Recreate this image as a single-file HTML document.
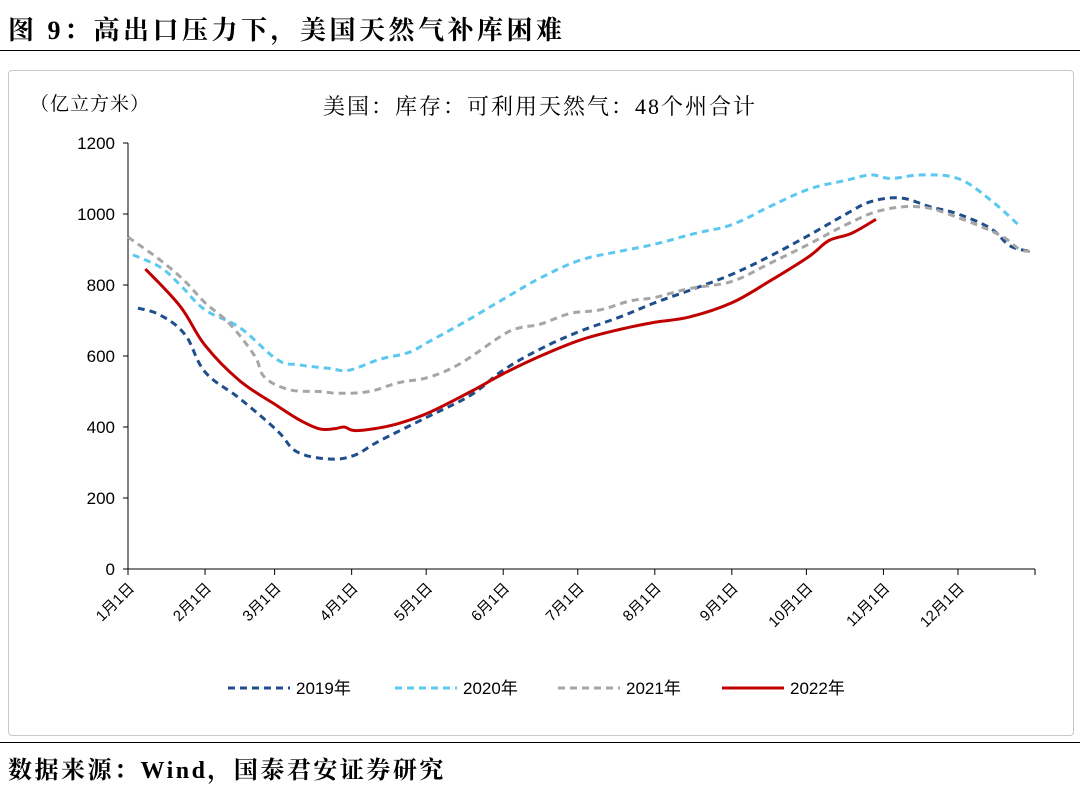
<!DOCTYPE html>
<html><head><meta charset="utf-8">
<style>
body{margin:0;width:1080px;height:785px;background:#fff;font-family:"Liberation Serif","Noto Serif CJK SC",serif;position:relative;overflow:hidden}
.t{position:absolute;left:8px;top:10px;font-size:26px;letter-spacing:3.5px;font-weight:bold;color:#000;white-space:nowrap}
.hl{position:absolute;left:0;width:1080px;height:1px;background:#000}
.box{position:absolute;left:8px;top:70px;width:1064px;height:664px;border:1px solid #c8c8c8;border-radius:4px}
.src{position:absolute;left:8px;top:750px;font-size:24px;letter-spacing:2.5px;font-weight:bold;white-space:nowrap}
svg{position:absolute;left:0;top:0}
</style></head><body>
<div class="t">图 9：高出口压力下，美国天然气补库困难</div>
<div class="hl" style="top:50px"></div>
<div class="box"></div>
<div class="hl" style="top:742px"></div>
<div class="src">数据来源：Wind，国泰君安证券研究</div>
<svg id="c" width="1080" height="785"></svg>
<script>
const months=["1月1日","2月1日","3月1日","4月1日","5月1日","6月1日","7月1日","8月1日","9月1日","10月1日","11月1日","12月1日"];
const monthDays=[0,31,59,90,120,151,181,212,243,273,304,334];
const yTicks=[0,200,400,600,800,1000,1200];
const d2019=[4,13,23,31,45,60,68,81,91,101,121,138,151,166,182,198,212,228,243,258,274,289,299,311,323,334,347,355,363];
const v2019=[735,715,660,555,480,390,330,310,320,360,430,490,560,620,670,710,750,790,830,880,940,1000,1035,1045,1020,1000,960,910,895];
const d2020=[2,13,21,31,45,60,69,81,89,101,113,121,134,151,166,182,198,212,228,243,258,274,289,299,307,319,334,347,359];
const v2020=[885,850,800,730,680,590,575,565,560,590,610,640,690,760,820,870,895,915,945,970,1020,1070,1095,1110,1100,1110,1100,1040,965];
const d2021=[0,13,23,31,41,51,55,65,77,85,97,109,121,134,151,158,166,178,190,202,212,226,243,258,274,289,303,319,334,351,359,365];
const v2021=[935,870,810,750,690,600,540,505,500,495,500,525,540,580,660,680,690,720,730,755,765,790,810,860,915,970,1010,1020,990,940,900,895];
const d2022=[7,21,31,45,60,69,77,83,87,91,99,109,121,138,151,166,182,198,212,226,243,258,274,282,291,301];
const v2022=[845,740,630,530,460,420,395,395,400,390,395,410,440,500,550,600,645,675,695,710,750,810,880,925,945,985];
const X=d=>128+d*907/365, Y=v=>569-v*426/1200;
const s=document.getElementById('c'),NS="http://www.w3.org/2000/svg";
function el(t,a,txt){const e=document.createElementNS(NS,t);for(const k in a)e.setAttribute(k,a[k]);if(txt!=null)e.textContent=txt;s.appendChild(e);return e;}
const F='"Liberation Sans","Noto Sans CJK SC",sans-serif';
const FS='"Liberation Serif","Noto Serif CJK SC",serif';
function smooth(p){let d='M'+p[0][0]+','+p[0][1];for(let i=0;i<p.length-1;i++){const p0=p[i-1]||p[i],p1=p[i],p2=p[i+1],p3=p[i+2]||p2;const t=0.18;
 d+=` C${p1[0]+(p2[0]-p0[0])*t},${p1[1]+(p2[1]-p0[1])*t} ${p2[0]-(p3[0]-p1[0])*t},${p2[1]-(p3[1]-p1[1])*t} ${p2[0]},${p2[1]}`;}return d;}
let e=el('line',{x1:128,y1:143,x2:128,y2:569,stroke:'#000'});

e=el('line',{x1:128,y1:569,x2:1035,y2:569,stroke:'#000'});

yTicks.forEach(v=>{el('line',{x1:123,x2:128,y1:Y(v),y2:Y(v),stroke:'#000'});
 e=el('text',{x:115,y:Y(v)+6,'text-anchor':'end','font-size':17,'font-family':F},v);
 });
monthDays.concat([365]).forEach(d=>el('line',{x1:X(d),x2:X(d),y1:569,y2:575,stroke:'#000'}));
months.forEach((m,i)=>{const x=X(monthDays[i]),y=582;
 e=el('text',{x:x,y:y+10,'text-anchor':'end','font-size':15,'font-family':F,transform:`rotate(-45 ${x} ${y})`},m);
 });
e=el('text',{x:30,y:110,'font-size':19,'letter-spacing':1,'font-family':FS},'（亿立方米）');

e=el('text',{x:540,y:114,'text-anchor':'middle','font-size':22,'letter-spacing':2,'font-family':FS},'美国：库存：可利用天然气：48个州合计');

const series=[[d2019,v2019,'#1f4e8c','7,5','2019年',228],[d2020,v2020,'#5bc8ef','7,5','2020年',395],[d2021,v2021,'#a6a6a6','7,5','2021年',558],[d2022,v2022,'#c00000','','2022年',722]];
series.forEach(([d,v,c,da,n,lx],i)=>{
 e=el('path',{d:smooth(d.map((x,j)=>[X(x),Y(v[j])])),fill:'none',stroke:c,'stroke-width':3,'stroke-dasharray':da,'stroke-linejoin':'round'});
 
 e=el('line',{x1:lx,x2:lx+62,y1:688,y2:688,stroke:c,'stroke-width':3,'stroke-dasharray':da});
 
 e=el('text',{x:lx+68,y:694,'font-size':17,'font-family':F},n);
 
});
</script>
</body></html>
